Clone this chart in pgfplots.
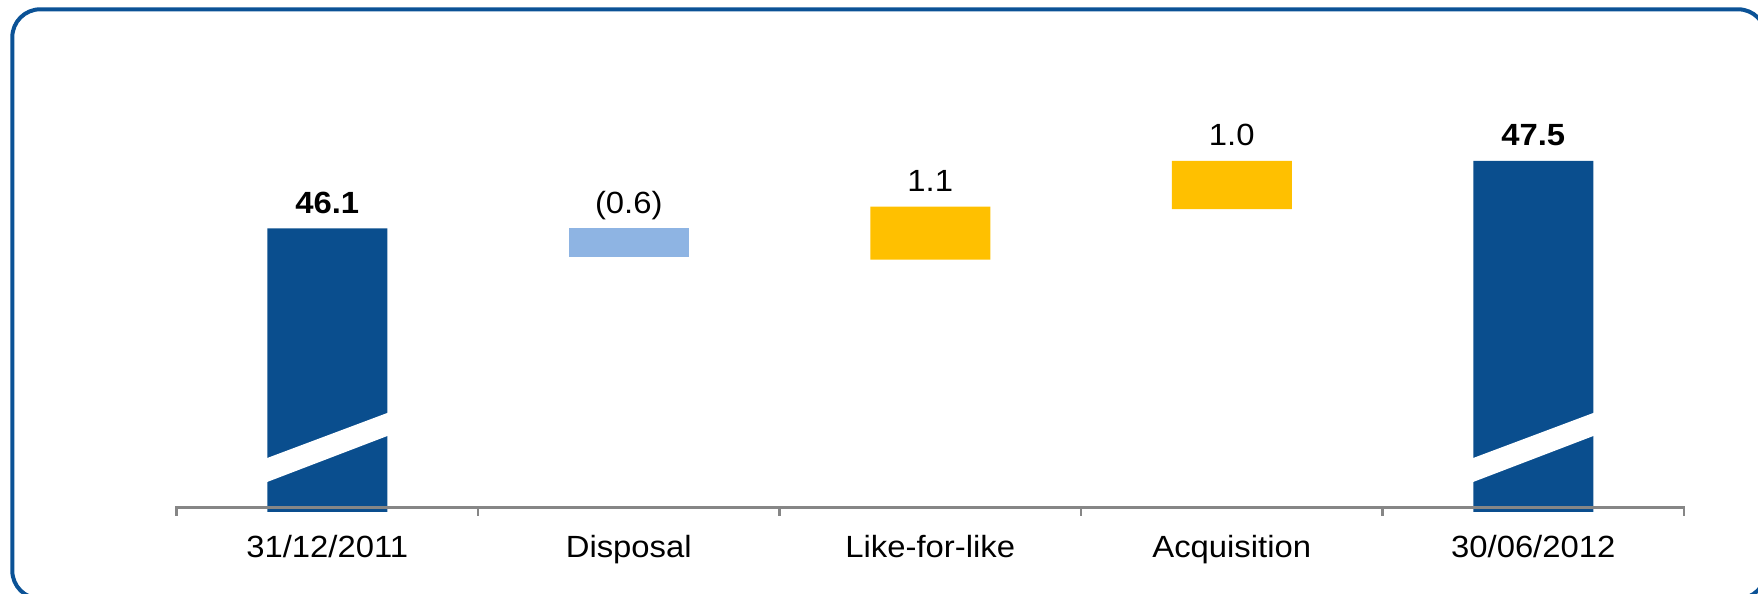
\documentclass[border=0pt]{standalone}
\usepackage{fontspec}
\setmainfont[FakeStretch=1.07]{Liberation Sans}
\usepackage{pgfplots}
\pgfplotsset{compat=1.18}

\definecolor{navy}{RGB}{10,78,142}
\definecolor{framecol}{RGB}{11,82,150}
\definecolor{paleblue}{RGB}{142,180,227}
\definecolor{amber}{RGB}{255,192,0}
\definecolor{rulecol}{RGB}{134,134,134}
\newcommand{\lblfont}{\fontsize{9.2pt}{11pt}\selectfont}

% shared geometry of the bar axis and the overlay axis
\pgfplotsset{
  bridge/.style={
    at={(52.95pt,24.81pt)}, anchor=south west,
    width=452.25pt, height=119.51pt, scale only axis,
    xmin=-0.5, xmax=4.5, ymin=40.213, ymax=48.5,
  }
}

\begin{document}
\begin{tikzpicture}
\useasboundingbox (0,0) rectangle (527.4pt,178.2pt);
\clip (0,0) rectangle (527.4pt,178.2pt);
\draw[framecol, line width=1.2pt, rounded corners=8.4pt]
  (3.69pt,-1.41pt) rectangle (529.8pt,175.41pt);

% bridge bars: invisible base, then the visible segments
\begin{axis}[bridge, ybar stacked, bar width=36pt,
  axis line style={draw=none}, ytick=\empty,
  xtick={0,...,4},
  xticklabels={31/12/2011, Disposal, Like-for-like, Acquisition, 30/06/2012},
  major tick length=0pt,
  xticklabel style={font=\lblfont, anchor=base, inner sep=0pt, yshift=-13.8pt},
]
\addplot[draw=none, fill=none] coordinates {(0,0) (1,45.5) (2,45.45) (3,46.5) (4,0)};
\addplot[draw=none, fill=navy] coordinates {(0,46.1) (1,0) (2,0) (3,0) (4,47.5)};
\addplot[draw=none, fill=paleblue] coordinates {(0,0) (1,0.6) (2,0) (3,0) (4,0)};
\addplot[draw=none, fill=amber] coordinates {(0,0) (1,0) (2,1.1) (3,1.0) (4,0)};
\end{axis}

% axis breaks, baseline with ticks, value labels
\begin{axis}[bridge, hide axis, clip=false]
\addplot[fill=white, draw=none, mark=none] coordinates
  {(-0.21,40.797) (0.21,41.805) (0.21,42.284) (-0.21,41.296)} -- cycle;
\addplot[fill=white, draw=none, mark=none] coordinates
  {(3.79,40.797) (4.21,41.805) (4.21,42.284) (3.79,41.296)} -- cycle;
\addplot[rulecol, line width=0.75pt, mark=none] coordinates
  {(-0.5,40.121) (-0.5,40.296) (4.5,40.296) (4.5,40.121)};
\addplot[rulecol, line width=0.75pt, mark=none, unbounded coords=jump] coordinates
  {(0.5,40.296) (0.5,40.121) (nan,nan)
   (1.5,40.296) (1.5,40.121) (nan,nan)
   (2.5,40.296) (2.5,40.121) (nan,nan)
   (3.5,40.296) (3.5,40.121)};
\addplot[draw=none, mark=none, nodes near coords, point meta=explicit symbolic,
  nodes near coords style={font=\lblfont, anchor=base, inner sep=0pt, yshift=4.5pt, text=black}]
  coordinates {(0,46.1) [\textbf{46.1}] (1,46.1) [(0.6)] (2,46.55) [1.1]
               (3,47.5) [1.0] (4,47.5) [\textbf{47.5}]};
\end{axis}
\end{tikzpicture}
\end{document}
